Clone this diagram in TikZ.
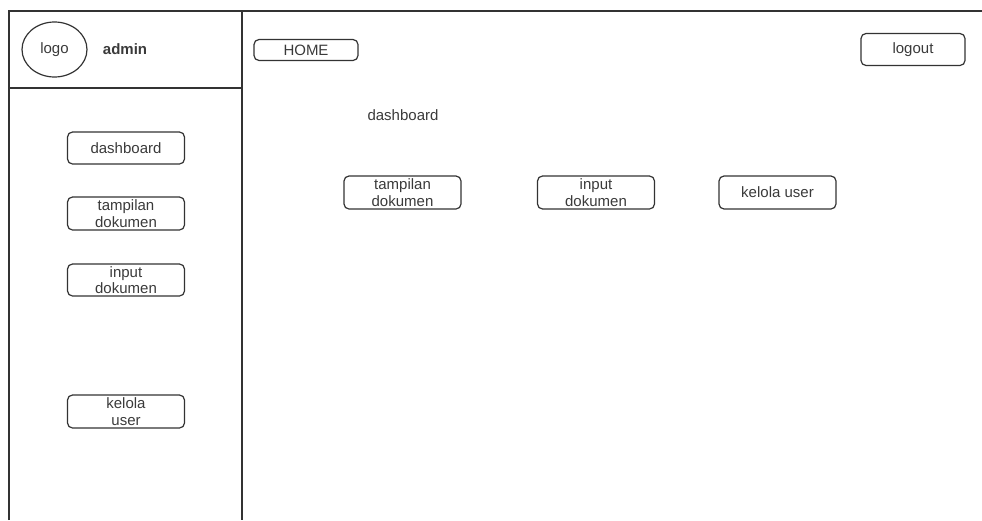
\documentclass[tikz,border=0pt]{standalone}
\usepackage{fontspec}
\setmainfont{Liberation Sans}
\usetikzlibrary{shapes.geometric}
\definecolor{garis}{HTML}{333333}
\definecolor{teks}{HTML}{3A3A3A}

\tikzset{
  tombol/.style = {rectangle, rounded corners = 5pt, draw = garis, line width = 1.2pt, minimum width = 117pt, minimum height = 33pt, inner sep = 0pt, align = center, text = teks, font = \fontsize{15}{16.5}\selectfont},
  label/.style = {inner sep = 0pt, text = teks, font = \fontsize{15}{16.5}\selectfont},
}

\begin{document}
\begin{tikzpicture}[x=1pt, y=-1pt]
\useasboundingbox (0,0) rectangle (982,520);

% kerangka halaman
\draw[garis, line width = 1.2pt] (9,520) -- (9,11) -- (982,11);
\draw[garis, line width = 1.2pt] (242,11) -- (242,520);
\draw[garis, line width = 1.2pt] (9,88) -- (242,88);

% header sidebar
\node[ellipse, draw = garis, line width = 1.2pt, minimum width = 65pt, minimum height = 55pt, inner sep = 0pt, text = teks, font = \fontsize{15}{16.5}\selectfont](logo) at (54.5,49.5){logo};
\node[label, font = \fontsize{15}{16.5}\selectfont\bfseries](admin) at (125,49){admin};

% menu sidebar
\node[tombol, minimum height = 32pt](menuDash) at (126,148){dashboard};
\node[tombol](menuTampil) at (126,213.5){tampilan\\dokumen};
\node[tombol, minimum height = 32pt](menuInput) at (126,280){input\\dokumen};
\node[tombol](menuUser) at (126,411.5){kelola\\user};

% bar atas
\node[tombol, minimum width = 104pt, minimum height = 21pt](home) at (306,50){HOME};
\node[tombol, minimum width = 104pt, minimum height = 32pt](logout) at (913,49.5){logout};

% isi dashboard
\node[label](judul) at (403,115){dashboard};
\node[tombol](isiTampil) at (402.5,192.5){tampilan\\dokumen};
\node[tombol](isiInput) at (596,192.5){input\\dokumen};
\node[tombol](isiUser) at (777.5,192.5){kelola user};

\end{tikzpicture}
\end{document}
